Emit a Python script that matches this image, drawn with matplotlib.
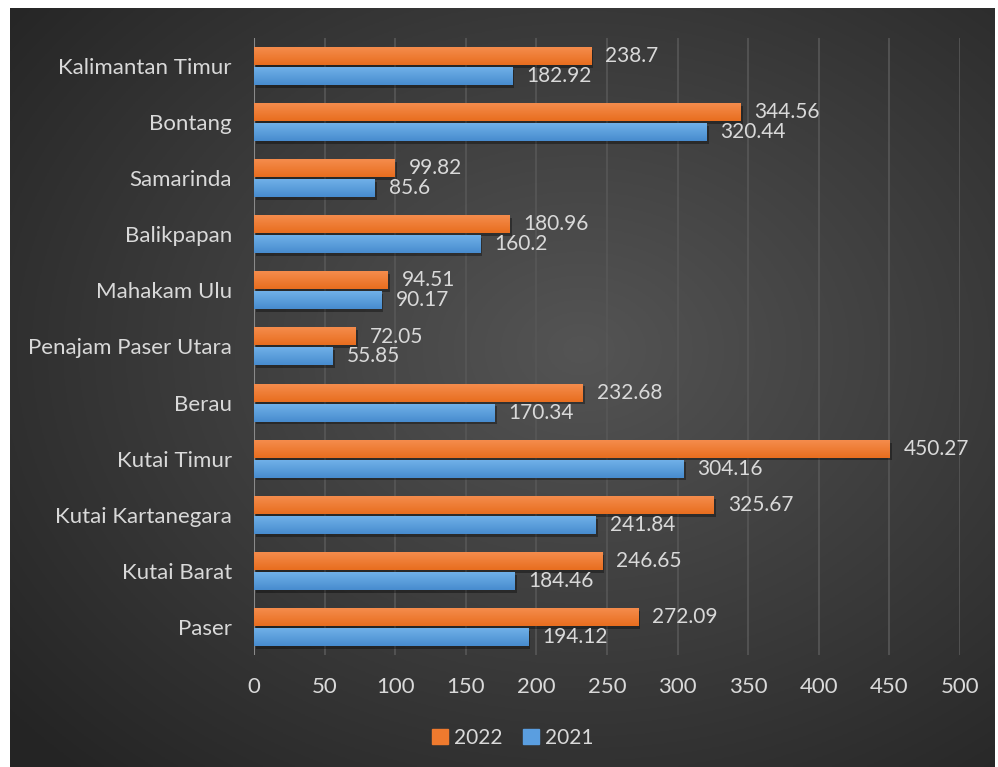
import numpy as np
import matplotlib
matplotlib.use('Agg')
import matplotlib.pyplot as plt
import matplotlib.patheffects as pe
from matplotlib.patches import Patch

# data
regions = ['Kalimantan Timur', 'Bontang', 'Samarinda', 'Balikpapan', 'Mahakam Ulu',
           'Penajam Paser Utara', 'Berau', 'Kutai Timur', 'Kutai Kartanegara',
           'Kutai Barat', 'Paser']
val_2022 = [238.7, 344.56, 99.82, 180.96, 94.51, 72.05, 232.68, 450.27, 325.67, 246.65, 272.09]
val_2021 = [182.92, 320.44, 85.6, 160.2, 90.17, 55.85, 170.34, 304.16, 241.84, 184.46, 194.12]
xticks = [0, 50, 100, 150, 200, 250, 300, 350, 400, 450, 500]

plt.rcParams['font.family'] = ['Lato', 'DejaVu Sans']
txt_col = '#d9d9d9'

fig = plt.figure(figsize=(9.98, 7.67), dpi=100)
fig.patch.set_facecolor('white')

# dark radial background
bg = fig.add_axes([10/998, 0, 985/998, 759/767])
bg.set_axis_off()
yy, xx = np.mgrid[0:1:300j, 0:1:400j]
r = np.sqrt(((xx - 0.58) / 0.75)**2 + ((yy - 0.45) / 0.75)**2)
r = np.clip(r, 0, 1)
c_in = np.array([0.33, 0.33, 0.33])
c_out = np.array([0.145, 0.145, 0.145])
img = c_in[None, None, :] * (1 - r[..., None]) + c_out[None, None, :] * r[..., None]
bg.imshow(img, aspect='auto', extent=(0, 1, 0, 1), origin='upper')
bg.set_zorder(0)

ax = fig.add_axes([254/998, 1 - 655/767, (960 - 254)/998, (655 - 38)/767])
ax.set_zorder(1)
ax.patch.set_alpha(0)

n = len(regions)
ypos = np.arange(n)[::-1]
off = 0.178
h = 0.32

shadow = [pe.SimplePatchShadow(offset=(1.5, -2), shadow_rgbFace='black', alpha=0.35), pe.Normal()]
b22 = ax.barh(ypos + off, val_2022, height=h, color='#ef7a2e', zorder=3, path_effects=shadow)
b21 = ax.barh(ypos - off, val_2021, height=h, color='#5a9ee0', zorder=3, path_effects=shadow)

# vertical gradient on bars
def grad(bars, top, bot):
    g = np.linspace(0, 1, 50)[:, None, None]
    cimg = np.array(top)[None, None, :] * (1 - g) + np.array(bot)[None, None, :] * g
    for p in bars:
        x0, y0 = p.get_x(), p.get_y()
        ax.imshow(cimg, extent=(x0, x0 + p.get_width(), y0, y0 + p.get_height()),
                  aspect='auto', origin='upper', zorder=4)

grad(b22, (0.96, 0.55, 0.30), (0.91, 0.43, 0.12))
grad(b21, (0.44, 0.69, 0.91), (0.28, 0.55, 0.81))

for p, v in zip(b22, val_2022):
    ax.text(v + 10, p.get_y() + p.get_height()/2, f'{v:g}', color=txt_col,
            fontsize=15, va='center', ha='left', zorder=5)
for p, v in zip(b21, val_2021):
    ax.text(v + 10, p.get_y() + p.get_height()/2, f'{v:g}', color=txt_col,
            fontsize=15, va='center', ha='left', zorder=5)

ax.set_xlim(0, 500)
ax.set_ylim(-0.5, n - 0.5)
ax.set_xticks(xticks)
ax.set_xticklabels([str(t) for t in xticks])
ax.set_yticks(ypos)
ax.set_yticklabels(regions)
ax.tick_params(axis='both', length=0, colors=txt_col, labelsize=16)
ax.tick_params(axis='x', pad=16)
ax.tick_params(axis='y', pad=16)
ax.grid(axis='x', color='#575757', lw=1.2, zorder=1)
for s in ax.spines.values():
    s.set_visible(False)
ax.axvline(0, color='#8a8a8a', lw=1.5, zorder=2)

handles = [Patch(color='#ef7a2e', label='2022'), Patch(color='#5a9ee0', label='2021')]
fig.legend(handles=handles, loc='center', bbox_to_anchor=(0.514, 1 - 738/767), ncol=2,
           frameon=False, fontsize=15, labelcolor=txt_col, handlelength=0.75,
           handleheight=0.75, handletextpad=0.3, columnspacing=1.0)

fig.savefig('out.png', dpi=100)
